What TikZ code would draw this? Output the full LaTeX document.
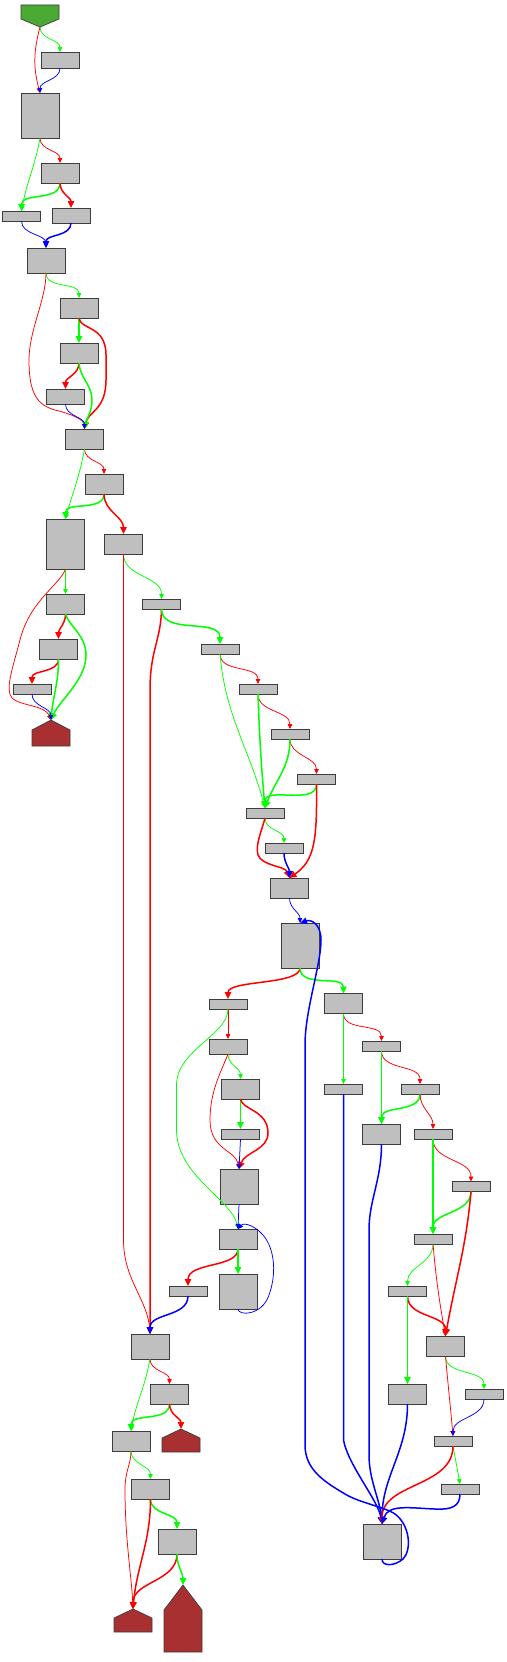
\documentclass[tikz,border=0pt]{standalone}
\usetikzlibrary{arrows.meta,calc}
\definecolor{edgeg}{RGB}{0,255,0}
\definecolor{edger}{RGB}{255,0,0}
\definecolor{edgeb}{RGB}{0,0,255}
\definecolor{nodefill}{RGB}{191,191,191}
\definecolor{nodeborder}{RGB}{60,60,60}
\definecolor{startfill}{RGB}{74,170,52}
\definecolor{endfill}{RGB}{168,48,48}
\newcommand\mkbox[4]{\node[box,minimum height=#4pt] (#1) at (#2,#3) {};}
\newcommand\mkhouse[5]{%
  \node[ghost,minimum height=#4pt] (#1) at (#2,#3) {};
  \filldraw[housestyle] (#1.north) -- ($(#1.north east)+(0,#5)$) -- (#1.south east) -- (#1.south west) -- ($(#1.north west)+(0,#5)$) -- cycle;}
\begin{document}
\begin{tikzpicture}[x=1pt,y=-1pt,
  box/.style={draw=nodeborder,fill=nodefill,line width=0.7pt,minimum width=38pt,inner sep=0pt,outer sep=0pt},
  ghost/.style={inner sep=0pt,outer sep=0pt,minimum width=38pt},
  housestyle/.style={draw=nodeborder,fill=endfill,line width=0.7pt},
  startstyle/.style={draw=nodeborder,fill=startfill,line width=0.7pt},
  thinln/.style={line width=0.75pt,-{Triangle[length=5pt,width=4.5pt]}},
  thickln/.style={line width=1.5pt,-{Triangle[length=7pt,width=6.5pt]}},
  gthin/.style={thinln,draw=edgeg},
  rthin/.style={thinln,draw=edger},
  bthin/.style={thinln,draw=edgeb},
  gthick/.style={thickln,draw=edgeg},
  rthick/.style={thickln,draw=edger},
  bthick/.style={thickln,draw=edgeb},
  vv/.style={out=-90,in=90}]
\useasboundingbox (0,0) rectangle (506,1662);
% start node
\node[ghost,minimum height=22pt] (start) at (40,16) {};
\filldraw[startstyle] (start.north west) -- (start.north east) -- ($(start.south east)+(0,-8)$) -- (start.south) -- ($(start.south west)+(0,-8)$) -- cycle;
% boxes
\mkbox{n1}{60}{60}{16}
\mkbox{n2}{40}{115.5}{45}
\mkbox{n3}{60}{173}{20}
\mkbox{n4}{21.5}{216}{10}
\mkbox{n5}{71}{215.5}{15}
\mkbox{n6}{46}{260.5}{25}
\mkbox{n7}{79}{308}{20}
\mkbox{n8}{79}{353}{20}
\mkbox{n9}{65.5}{396.5}{15}
\mkbox{n10}{84.5}{439}{20}
\mkbox{n11}{104}{484}{20}
\mkbox{n12}{65.5}{544}{50}
\mkbox{n13}{123.5}{544}{20}
\mkbox{n14}{65.5}{604}{20}
\mkbox{n15}{58.5}{649}{20}
\mkbox{n16}{32}{689}{10}
\mkbox{n17}{161.5}{604}{10}
\mkbox{n18}{220}{649}{10}
\mkbox{n19}{258}{689}{10}
\mkbox{n20}{290}{734}{10}
\mkbox{n21}{316.5}{779}{10}
\mkbox{n22}{265}{813}{10}
\mkbox{n23}{284}{848}{10}
\mkbox{n24}{289.5}{888}{20}
\mkbox{n25}{300}{945.5}{45}
\mkbox{n26}{228}{1004}{10}
\mkbox{n27}{343.5}{1003.5}{20}
\mkbox{n28}{228}{1046.5}{15}
\mkbox{n29}{381.5}{1046}{10}
\mkbox{n30}{240.5}{1089}{20}
\mkbox{n31}{343.5}{1089}{10}
\mkbox{n32}{420}{1089}{10}
\mkbox{n33}{381.5}{1134}{20}
\mkbox{n34}{240.5}{1134}{10}
\mkbox{n35}{433}{1134}{10}
\mkbox{n37}{239}{1186.5}{35}
\mkbox{n38}{471}{1186.5}{10}
\mkbox{n36}{238}{1239}{20}
\mkbox{n39}{433}{1239}{10}
\mkbox{n40}{188}{1291}{10}
\mkbox{n41}{238}{1291.5}{35}
\mkbox{n42}{407.5}{1291}{10}
\mkbox{n43}{150}{1346.5}{25}
\mkbox{n44}{445.5}{1346}{20}
\mkbox{n45}{169.5}{1394}{20}
\mkbox{n46}{407.5}{1394}{20}
\mkbox{n47}{484}{1394}{10}
\mkbox{n48}{131}{1441}{20}
\mkbox{n49}{453}{1441}{10}
\mkbox{n50}{150.5}{1489}{20}
\mkbox{n52}{460}{1489}{10}
\mkbox{n51}{177}{1541.5}{25}
\mkbox{final}{382}{1541.5}{35}
% exit nodes
\mkhouse{end1}{51}{733}{26}{10}
\mkhouse{end2}{181}{1440.5}{23}{9}
\mkhouse{end3}{133}{1620.5}{23}{9}
\mkhouse{end4}{183}{1618.5}{67}{25}
% edges
\draw[gthin] (start.south) to[vv] (n1.north);
\draw[rthin] (start.south) to[out=-105,in=105] (n2.north);
\draw[bthin] (n1.south) to[vv] (n2.north);
\draw[rthin] (n2.south) to[vv] (n3.north);
\draw[gthin] (n2.south) to[out=-100,in=80] (n4.north);
\draw[gthick] (n3.south) to[vv] (n4.north);
\draw[rthick] (n3.south) to[vv] (n5.north);
\draw[bthin] (n4.south) to[vv] (n6.north);
\draw[bthick] (n5.south) to[vv] (n6.north);
\draw[gthin] (n6.south) to[vv] (n7.north);
\draw[rthin] (n6.south) .. controls (46,300) and (29,330) .. (29,360) .. controls (29,395) and (38,405) .. (55,410) .. controls (72,414) and (84,420) .. (n10.north);
\draw[gthick] (n7.south) -- (n8.north);
\draw[rthick] (n7.south) .. controls (80,330) and (106,325) .. (106,355) -- (106,380) .. controls (106,410) and (88,412) .. (n10.north);
\draw[rthick] (n8.south) to[vv] (n9.north);
\draw[gthick] (n8.south) .. controls (80,378) and (92,385) .. (92,400) .. controls (92,412) and (86,420) .. (n10.north);
\draw[bthin] (n9.south) to[vv] (n10.north);
\draw[rthin] (n10.south) to[vv] (n11.north);
\draw[gthin] (n10.south) to[out=-100,in=75] (n12.north);
\draw[gthick] (n11.south) to[vv] (n12.north);
\draw[rthick] (n11.south) to[vv] (n13.north);
\draw[gthin] (n12.south) -- (n14.north);
\draw[rthin] (n12.south) .. controls (60,585) and (30,600) .. (20,640) .. controls (12,670) and (5,690) .. (12,698) .. controls (20,706) and (45,705) .. (end1.north);
\draw[rthick] (n14.south) to[vv] (n15.north);
\draw[gthick] (n14.south) .. controls (68,625) and (86,635) .. (86,655) .. controls (86,680) and (60,700) .. (end1.north);
\draw[rthick] (n15.south) to[vv] (n16.north);
\draw[gthick] (n15.south) to[out=-90,in=85] (end1.north);
\draw[bthin] (n16.south) to[vv] (end1.north);
\draw[gthin] (n13.south) to[vv] (n17.north);
\draw[rthin] (n13.south) -- (123.5,1240) .. controls (123.5,1280) and (148,1300) .. (n43.north);
\draw[rthick] (n17.south) .. controls (161,640) and (150,650) .. (150,690) -- (n43.north);
\draw[gthick] (n17.south) to[vv] (n18.north);
\draw[rthin] (n18.south) to[vv] (n19.north);
\draw[gthin] (n18.south) to[out=-85,in=105] (n22.north);
\draw[rthin] (n19.south) to[vv] (n20.north);
\draw[gthick] (n19.south) to[out=-88,in=95] (n22.north);
\draw[rthin] (n20.south) to[vv] (n21.north);
\draw[gthick] (n20.south) to[out=-90,in=70] (n22.north);
\draw[gthick] (n21.south) to[vv] (n22.north);
\draw[rthick] (n21.south) .. controls (317,840) and (315,860) .. (n24.north);
\draw[gthin] (n22.south) to[vv] (n23.north);
\draw[rthick] (n22.south) .. controls (262,830) and (255,845) .. (258,855) .. controls (262,866) and (285,866) .. (n24.north);
\draw[bthick] (n23.south) to[vv] (n24.north);
\draw[bthin] (n24.south) to[vv] (n25.north);
\draw[rthick] (n25.south) .. controls (300,985) and (228,980) .. (n26.north);
\draw[gthick] (n25.south) .. controls (300,988) and (343.5,975) .. (n27.north);
\draw[rthin] (n26.south) -- (n28.north);
\draw[gthin] (n26.south) .. controls (228,1035) and (176.5,1050) .. (176.5,1085) -- (176.5,1130) .. controls (176.5,1175) and (232,1200) .. (n36.north);
\draw[rthin] (n27.south) to[vv] (n29.north);
\draw[gthin] (n27.south) -- (n31.north);
\draw[gthin] (n28.south) to[vv] (n30.north);
\draw[rthin] (n28.south) .. controls (222,1070) and (210,1090) .. (210,1120) .. controls (210,1150) and (236,1150) .. (n37.north);
\draw[rthin] (n29.south) to[vv] (n32.north);
\draw[gthick] (n29.south) -- (n33.north);
\draw[gthick] (n30.south) -- (n34.north);
\draw[rthick] (n30.south) .. controls (242,1110) and (268,1110) .. (268,1133) .. controls (268,1150) and (245,1152) .. (n37.north);
\draw[bthick] (n31.south) -- (343.5,1440) .. controls (348,1465) and (378,1500) .. (final.north);
\draw[gthick] (n32.south) to[vv] (n33.north);
\draw[rthin] (n32.south) to[vv] (n35.north);
\draw[bthick] (n33.south) .. controls (381.5,1180) and (369,1200) .. (369,1230) -- (369,1455) .. controls (369,1480) and (380,1500) .. (final.north);
\draw[bthin] (n34.south) -- (n37.north);
\draw[rthin] (n35.south) to[vv] (n38.north);
\draw[gthick] (n35.south) -- (n39.north);
\draw[bthin] (n37.south) -- (n36.north);
\draw[rthick] (n36.south) .. controls (238,1268) and (188,1262) .. (n40.north);
\draw[gthick] (n36.south) -- (n41.north);
\draw[bthin] (n41.south) .. controls (238,1316) and (262,1316) .. (269,1295) .. controls (278,1270) and (273,1245) .. (262,1234) .. controls (255,1226) and (244,1222) .. (n36.north);
\draw[gthick] (n38.south) to[vv] (n39.north);
\draw[rthick] (n38.south) to[out=-95,in=80] (n44.north);
\draw[gthin] (n39.south) to[vv] (n42.north);
\draw[rthin] (n39.south) to[out=-85,in=100] (n44.north);
\draw[bthick] (n40.south) to[vv] (n43.north);
\draw[rthick] (n42.south) to[vv] (n44.north);
\draw[gthick] (n42.south) -- (n46.north);
\draw[rthin] (n43.south) to[vv] (n45.north);
\draw[gthin] (n43.south) to[out=-100,in=80] (n48.north);
\draw[gthin] (n44.south) to[vv] (n47.north);
\draw[rthin] (n44.south) to[out=-85,in=95] (n49.north);
\draw[gthick] (n45.south) to[vv] (n48.north);
\draw[rthick] (n45.south) to[vv] (end2.north);
\draw[bthick] (n46.south) to[vv] (final.north);
\draw[bthin] (n47.south) to[vv] (n49.north);
\draw[gthin] (n48.south) to[vv] (n50.north);
\draw[rthin] (n48.south) .. controls (131,1465) and (125,1470) .. (125,1490) .. controls (125,1540) and (132,1580) .. (end3.north);
\draw[gthin] (n49.south) to[out=-80,in=100] (n52.north);
\draw[rthick] (n49.south) to[vv] (final.north);
\draw[gthick] (n50.south) to[vv] (n51.north);
\draw[rthick] (n50.south) to[out=-90,in=85] (end3.north);
\draw[rthick] (n51.south) to[vv] (end3.north);
\draw[gthick] (n51.south) to[vv] (end4.north);
\draw[bthick] (n52.south) .. controls (460,1506) and (452,1510) .. (435,1509) .. controls (410,1508) and (388,1504) .. (final.north);
\draw[bthick] (final.south) .. controls (382,1567) and (395,1566) .. (403,1559) .. controls (412,1550) and (410,1525) .. (395,1514) .. controls (385,1507) and (360,1503) .. (345,1494) .. controls (325,1482) and (305,1470) .. (305,1445) -- (305,1045) .. controls (305,1010) and (321,965) .. (321,940) .. controls (321,925) and (312,919) .. (n25.north);
\end{tikzpicture}
\end{document}
